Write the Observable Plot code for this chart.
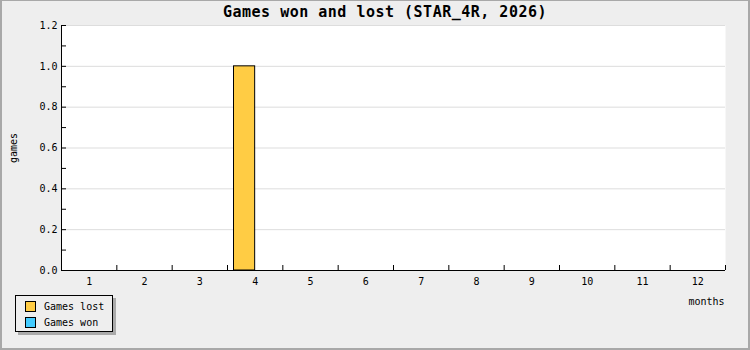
<!DOCTYPE html>
<html>
<head>
<meta charset="utf-8">
<script src="https://cdn.jsdelivr.net/npm/d3@7"></script>
<script src="https://cdn.jsdelivr.net/npm/@observablehq/plot@0.6"></script>
<style>
  html, body { margin: 0; padding: 0; background: #fff; }
  #chart {
    position: relative; width: 750px; height: 350px; background: #eeeeee;
    font-family: "DejaVu Sans Mono", monospace; color: #000; overflow: hidden;
  }
  #chart svg { position: absolute; left: 0; top: 0; }
  #border {
    position: absolute; left: 0; top: 0; width: 750px; height: 350px; box-sizing: border-box;
    border-style: solid; border-color: #a8a8a8; border-width: 1px 2px 2px 2px; pointer-events: none;
  }
  #title {
    position: absolute; left: 385px; top: 3px; transform: translateX(-50%);
    font-size: 15px; font-weight: bold; letter-spacing: 0.5px; white-space: nowrap; line-height: 18px;
  }
  #legend {
    position: absolute; left: 15px; top: 295px; width: 96px; height: 35px;
    border: 1px solid #000; background: #eeeeee; box-shadow: 3px 3px 0 #aaaaaa;
    font-size: 10px;
  }
  .item { position: absolute; left: 9px; height: 11px; display: flex; align-items: center; white-space: nowrap; }
  .sw { width: 9px; height: 9px; border: 1px solid #000; margin-right: 8px; }
</style>
</head>
<body>
<div id="chart">
  <div id="title"></div>
  <div id="legend"></div>
  <div id="border"></div>
</div>
<script>
// Monthly results for the season
const months = [1, 2, 3, 4, 5, 6, 7, 8, 9, 10, 11, 12];
const gamesLost = [0, 0, 0, 1, 0, 0, 0, 0, 0, 0, 0, 0];
const gamesWon = [0, 0, 0, 0, 0, 0, 0, 0, 0, 0, 0, 0];
const seriesNames = ["Games lost", "Games won"];
const seriesColors = ["#ffcc44", "#44ccff"];
const yTicksMajor = [0, 0.2, 0.4, 0.6, 0.8, 1.0, 1.2];
const yTicksMinor = [0, 0.1, 0.2, 0.3, 0.4, 0.5, 0.6, 0.7, 0.8, 0.9, 1.0, 1.1, 1.2];
const titleText = "Games won and lost (STAR_4R, 2026)";
const xTitle = "months";
const yTitle = "games";

// Long table: one row per month and series
const rows = months.flatMap((m, i) => [
  {month: m, series: seriesNames[0], idx: 0, games: gamesLost[i]},
  {month: m, series: seriesNames[1], idx: 1, games: gamesWon[i]}
]);
// Month boundaries where the x ticks sit
const bounds = [0.5, ...months.map(m => m + 0.5)];

const W = 750, H = 350;
const mL = 61, mR = 25, mT = 25, mB = 80;
const plotW = W - mL - mR, plotH = H - mT - mB;
const groupGap = 0.1175;   // empty space at each side of a month's bar group
const tick = 5;

const chart = Plot.plot({
  width: W, height: H,
  marginLeft: mL, marginRight: mR, marginTop: mT, marginBottom: mB,
  style: {background: "transparent", fontFamily: "DejaVu Sans Mono", fontSize: "10px", color: "#000"},
  x: {domain: [0.5, 12.5]},
  y: {domain: [0, 1.2]},
  color: {domain: seriesNames, range: seriesColors},
  marks: [
    Plot.frame({fill: "white", stroke: null}),
    Plot.ruleY(yTicksMajor.slice(1), {stroke: "#dddddd", strokeOpacity: 1}),
    Plot.rectY(rows, {
      x1: d => d.month - 0.5 + (d.idx === 0 ? groupGap : 0.5),
      x2: d => d.month + (d.idx === 0 ? 0 : 0.5 - groupGap),
      y: "games",
      fill: "series",
      stroke: "#000",
      strokeWidth: 1
    }),
    // axis lines
    Plot.ruleY([0], {stroke: "#000"}),
    Plot.ruleX([0.5], {stroke: "#000"}),
    // inward ticks
    Plot.ruleY(yTicksMinor, {stroke: "#000", insetRight: plotW - tick}),
    Plot.ruleX(bounds, {stroke: "#000", insetTop: plotH - tick}),
    // tick labels and axis titles
    Plot.axisY(yTicksMajor, {
      tickSize: 0, tickPadding: 4, tickFormat: d => d.toFixed(1),
      label: yTitle, labelAnchor: "center", labelArrow: "none", labelOffset: 52
    }),
    Plot.axisX(months, {
      tickSize: 0, tickPadding: 7, tickFormat: d => String(d), label: null
    }),
    Plot.text([xTitle], {
      text: d => d, frameAnchor: "bottom-right", textAnchor: "end", dy: 34, dx: -1
    })
  ]
});
document.getElementById("chart").prepend(chart);

document.getElementById("title").textContent = titleText;
const legend = document.getElementById("legend");
seriesNames.forEach((name, i) => {
  const item = document.createElement("div");
  item.className = "item";
  item.style.top = (5 + i * 16) + "px";
  const sw = document.createElement("span");
  sw.className = "sw";
  sw.style.background = seriesColors[i];
  const label = document.createElement("span");
  label.textContent = name;
  item.append(sw, label);
  legend.append(item);
});
</script>
</body>
</html>
